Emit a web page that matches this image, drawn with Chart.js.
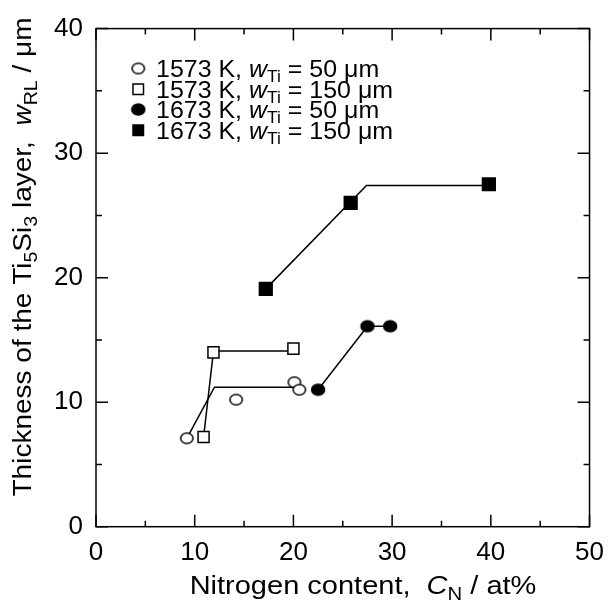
<!DOCTYPE html>
<html>
<head>
<meta charset="utf-8">
<script src="https://cdn.jsdelivr.net/npm/chart.js@4"></script>
<style>
  body { margin: 0; background: #fff; }
</style>
</head>
<body>
<canvas id="myChart" width="615" height="600"></canvas>
<script>
// data
var x_1573_50 = [9.2, 14.2, 20.1, 20.6];
var y_1573_50 = [7.1, 10.2, 11.6, 11.0];
var x_1573_150 = [10.9, 11.9, 20.0];
var y_1573_150 = [7.2, 14.0, 14.3];
var x_1673_50 = [22.5, 27.5, 29.8];
var y_1673_50 = [11.0, 16.1, 16.1];
var x_1673_150 = [17.2, 25.8, 39.8];
var y_1673_150 = [19.1, 26.0, 27.5];

// guide lines drawn through the points
var fit_1573_50_x = [9.2, 12.0, 20.0];
var fit_1573_50_y = [7.1, 11.2, 11.2];
var fit_1573_150_x = [10.9, 11.9, 20.0];
var fit_1573_150_y = [7.2, 14.1, 14.1];
var fit_1673_50_x = [22.5, 27.5, 29.8];
var fit_1673_50_y = [11.0, 16.1, 16.1];
var fit_1673_150_x = [17.2, 27.4, 39.8];
var fit_1673_150_y = [19.1, 27.4, 27.4];

var xTicks = [0, 10, 20, 30, 40, 50];
var yTicks = [0, 10, 20, 30, 40];

var FONT = "'Liberation Sans', Arial, sans-serif";

function pts(xs, ys) {
  var out = [];
  for (let i = 0; i < xs.length; i++) out.push({x: xs[i], y: ys[i]});
  return out;
}

// circles in the original are slightly squashed, so use little ellipse images
function ellipse(rx, ry, filled) {
  var c = document.createElement("canvas");
  c.width = Math.ceil(rx * 2 + 3);
  c.height = Math.ceil(ry * 2 + 3);
  var g = c.getContext("2d");
  g.beginPath();
  g.ellipse(c.width / 2, c.height / 2, rx, ry, 0, 0, Math.PI * 2);
  g.fillStyle = filled ? "#000" : "#fff";
  g.fill();
  g.lineWidth = 1.5;
  g.strokeStyle = "#000";
  g.stroke();
  return c;
}
var openCircle = ellipse(6.2, 5.3, false);
var fullCircle = ellipse(6.5, 5.6, true);

function lineSet(xs, ys) {
  return {
    type: "line", data: pts(xs, ys), showLine: true, fill: false,
    borderColor: "#000", borderWidth: 1.5, pointRadius: 0, tension: 0, order: 2
  };
}

function markSet(xs, ys, style, bg, r) {
  return {
    type: "scatter", data: pts(xs, ys), showLine: false,
    pointStyle: style, pointRadius: r, pointHoverRadius: r,
    backgroundColor: bg, borderColor: "#000", borderWidth: 1.5, order: 1
  };
}

// text with italic / subscript parts, optionally stretched along the text
function richWidth(ctx, parts, size) {
  var w = 0;
  for (let p of parts) {
    var s = p.sub ? size * 0.7 : size;
    ctx.font = (p.it ? "italic " : "") + s + "px " + FONT;
    w += ctx.measureText(p.t).width;
  }
  return w;
}
function drawRich(ctx, parts, x, y, size, stretch) {
  stretch = stretch || 1;
  ctx.save();
  ctx.translate(x, y);
  ctx.scale(stretch, 1);
  var cx = 0;
  for (let p of parts) {
    var s = p.sub ? size * 0.7 : size;
    ctx.font = (p.it ? "italic " : "") + s + "px " + FONT;
    ctx.fillText(p.t, cx, p.sub ? size * 0.22 : 0);
    cx += ctx.measureText(p.t).width;
  }
  ctx.restore();
}

var legendRows = [
  {temp: "1573 K, ", w: "50", mark: openCircle},
  {temp: "1573 K, ", w: "150", mark: "openRect"},
  {temp: "1673 K, ", w: "50", mark: fullCircle},
  {temp: "1673 K, ", w: "150", mark: "fullRect"}
];

var frame = {
  id: "frame",
  afterDraw: function (chart) {
    var ctx = chart.ctx;
    var a = chart.chartArea;
    var xs = chart.scales.x, ys = chart.scales.y;
    ctx.save();
    ctx.strokeStyle = "#000";
    ctx.lineWidth = 1.5;
    ctx.strokeRect(a.left, a.top, a.right - a.left, a.bottom - a.top);
    ctx.beginPath();
    for (let v = 0; v <= 50; v += 5) {
      var px = xs.getPixelForValue(v);
      var len = v % 10 === 0 ? 12 : 6;
      ctx.moveTo(px, a.bottom); ctx.lineTo(px, a.bottom - len);
      ctx.moveTo(px, a.top); ctx.lineTo(px, a.top + len);
    }
    for (let v = 0; v <= 40; v += 5) {
      var py = ys.getPixelForValue(v);
      var len2 = v % 10 === 0 ? 12 : 6;
      ctx.moveTo(a.left, py); ctx.lineTo(a.left + len2, py);
      ctx.moveTo(a.right, py); ctx.lineTo(a.right - len2, py);
    }
    ctx.stroke();

    ctx.fillStyle = "#000";
    ctx.textBaseline = "alphabetic";
    ctx.textAlign = "left";

    // x title
    var xt = [{t: "Nitrogen content,  "}, {t: "C", it: true}, {t: "N", sub: true}, {t: " / at%"}];
    var wx = richWidth(ctx, xt, 25) * 1.16;
    drawRich(ctx, xt, 363 - wx / 2, 594, 25, 1.16);

    // y title
    var yt = [{t: "Thickness of the Ti"}, {t: "5", sub: true}, {t: "Si"}, {t: "3", sub: true},
              {t: " layer,  "}, {t: "w", it: true}, {t: "RL", sub: true}, {t: " / \u03bcm"}];
    var wy = richWidth(ctx, yt, 25) * 1.12;
    ctx.save();
    ctx.translate(31, 257);
    ctx.rotate(-Math.PI / 2);
    drawRich(ctx, yt, -wy / 2, 0, 25, 1.12);
    ctx.restore();

    // legend
    for (let i = 0; i < legendRows.length; i++) {
      var row = legendRows[i];
      var cy = 68.5 + i * 20.5;
      if (row.mark === "openRect" || row.mark === "fullRect") {
        ctx.fillStyle = row.mark === "fullRect" ? "#000" : "#fff";
        ctx.fillRect(133, cy - 5, 10.5, 10.5);
        ctx.strokeRect(133, cy - 5, 10.5, 10.5);
        ctx.fillStyle = "#000";
      } else {
        ctx.drawImage(row.mark, 138.3 - row.mark.width / 2, cy - row.mark.height / 2);
      }
      var parts = [{t: row.temp}, {t: "w", it: true}, {t: "Ti", sub: true}, {t: " = " + row.w + " \u03bcm"}];
      drawRich(ctx, parts, 156, cy + 8.5, 24, 1.04);
    }
    ctx.restore();
  }
};

var myChart = new Chart("myChart", {
  data: {
    datasets: [
      lineSet(fit_1573_50_x, fit_1573_50_y),
      lineSet(fit_1573_150_x, fit_1573_150_y),
      lineSet(fit_1673_50_x, fit_1673_50_y),
      lineSet(fit_1673_150_x, fit_1673_150_y),
      markSet(x_1573_50, y_1573_50, openCircle, "#fff", 6),
      markSet(x_1573_150, y_1573_150, "rect", "#fff", 7.8),
      markSet(x_1673_50, y_1673_50, fullCircle, "#000", 6),
      markSet(x_1673_150, y_1673_150, "rect", "#000", 9)
    ]
  },
  options: {
    responsive: false,
    animation: false,
    layout: { padding: { left: 0, right: 19.5, top: 27.5, bottom: 0 } },
    plugins: { legend: { display: false }, tooltip: { enabled: false } },
    scales: {
      x: {
        type: "linear", min: 0, max: 50,
        afterBuildTicks: function (s) { s.ticks = xTicks.map(v => ({value: v})); },
        afterFit: function (s) { s.height = 73.3; },
        grid: { display: false, drawTicks: false },
        border: { display: false },
        ticks: { color: "#000", padding: 11, font: { family: FONT, size: 26 } }
      },
      y: {
        type: "linear", min: 0, max: 40,
        afterBuildTicks: function (s) { s.ticks = yTicks.map(v => ({value: v})); },
        afterFit: function (s) { s.width = 96; },
        grid: { display: false, drawTicks: false },
        border: { display: false },
        ticks: { color: "#000", padding: 13, font: { family: FONT, size: 26 } }
      }
    }
  },
  plugins: [frame]
});
</script>
</body>
</html>
